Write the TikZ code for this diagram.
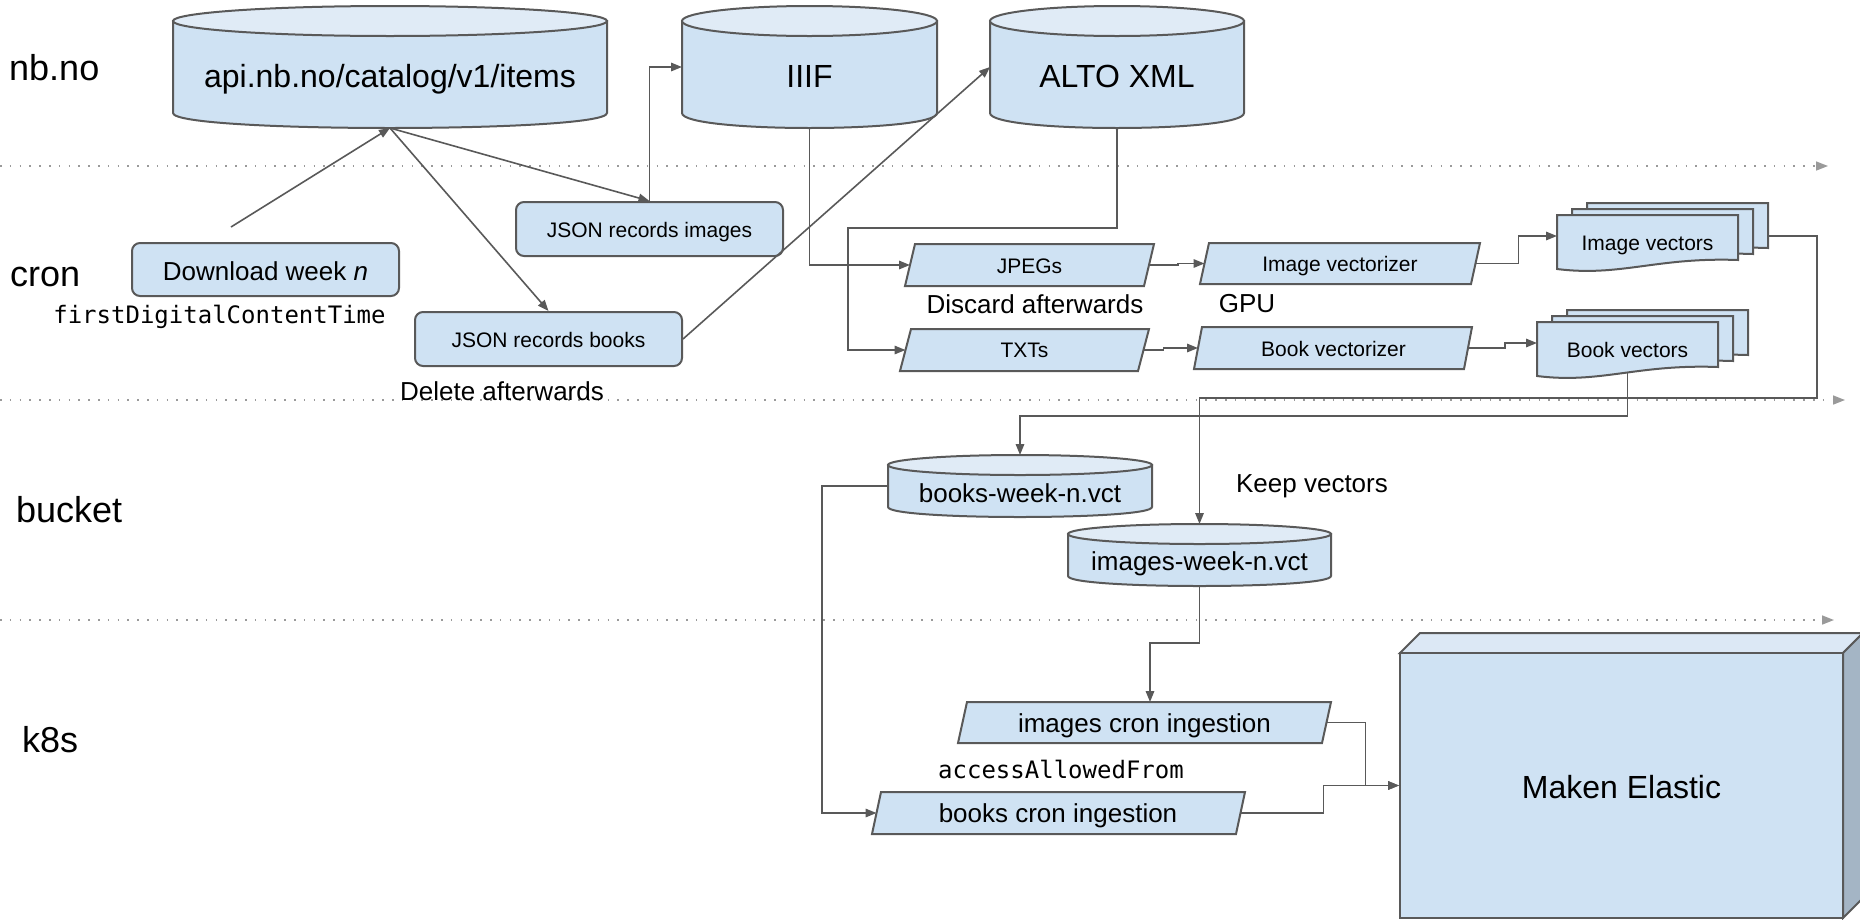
\documentclass[tikz,border=0pt]{standalone}
\usepackage{fontspec}
\setmainfont{Liberation Sans}
\newfontfamily\monofont{DejaVu Sans Mono}
\usetikzlibrary{arrows.meta,calc,fit}
\definecolor{boxfill}{HTML}{CFE2F3}
\definecolor{cyltop}{HTML}{E0EBF6}
\definecolor{edge}{HTML}{595959}
\definecolor{sepcol}{HTML}{9A9A9A}
\definecolor{topface}{HTML}{DCE8F5}
\definecolor{sideface}{HTML}{A4B5C5}
\newcommand{\setfs}[1]{\fontsize{#1}{#1}\selectfont}
\tikzset{
  shp/.style={draw=edge, fill=boxfill, line width=2pt},
  rbox/.style={shp, rounded corners=8pt, inner sep=0pt},
  ghost/.style={draw=none, fill=none, inner sep=0pt, outer sep=0pt},
  conn/.style={draw=edge, line width=1.6pt, -{Triangle[length=11pt,width=8.5pt]}},
  sepline/.style={draw=sepcol, line width=1.6pt, dash pattern=on 1.6pt off 8.2pt, -{Triangle[length=12pt,width=9pt]}},
  txtlane/.style={anchor=base west, inner sep=0pt, font=\setfs{36}},
  txtbig/.style={anchor=base, inner sep=0pt, font=\setfs{32}},
  txtmid/.style={anchor=base, inner sep=0pt, font=\setfs{26}},
  txtsmall/.style={anchor=base, inner sep=0pt, font=\setfs{21}},
  txtmono/.style={anchor=base, inner sep=0pt, font=\monofont\setfs{24}},
}
% cylinder: name, L, T, R, B, ry
\newcommand{\dbcyl}[6]{%
  \path[shp] ({#2},{#3+#6}) -- ({#2},{#5-#6}) .. controls ({#2},{#5+0.3333*#6}) and ({#4},{#5+0.3333*#6}) .. ({#4},{#5-#6}) -- ({#4},{#3+#6}) -- cycle;
  \path[shp, fill=cyltop] ({(#2+#4)/2},{#3+#6}) ellipse [x radius={(#4-#2)/2}, y radius={#6}];
  \node[ghost, fit={({#2},{#3}) ({#4},{#5})}] (#1) {};
}
% parallelogram: name, bottom-left x, bottom-right x, top y, bottom y, slant
\newcommand{\pgram}[6]{%
  \path[shp] ({#2},{#5}) -- ({#3},{#5}) -- ({#3+#6},{#4}) -- ({#2+#6},{#4}) -- cycle;
  \node[ghost, fit={({#2+#6/2},{#4}) ({#3+#6/2},{#5})}] (#1) {};
}
% one document page: L, T
\newcommand{\docpage}[2]{%
  \path[shp] ({#1},{#2}) -- ({#1+181},{#2}) -- ({#1+181},{#2+45}) .. controls ({#1+0.55*181},{#2+42}) and ({#1+0.35*181},{#2+62}) .. ({#1},{#2+54}) -- cycle;
}
% stack of documents: name, L, T
\newcommand{\docstack}[3]{%
  \docpage{#2+30}{#3-12}
  \docpage{#2+15}{#3-6}
  \docpage{#2}{#3}
  \node[ghost, fit={({#2},{#3-12}) ({#2+211},{#3+54})}] (#1) {};
}
\begin{document}
\begin{tikzpicture}[x=1pt,y=-1pt]
\useasboundingbox (0,0) rectangle (1860,919);
% lane separators
\coordinate (s1a) at (0,166); \coordinate (s1b) at (1828,166);
\coordinate (s2a) at (0,400); \coordinate (s2b) at (1845,400);
\coordinate (s3a) at (0,620); \coordinate (s3b) at (1834,620);
\draw[sepline] (s1a) -- (s1b);
\draw[sepline] (s2a) -- (s2b);
\draw[sepline] (s3a) -- (s3b);
% lane labels
\node[txtlane] (lnb) at (9,80) {nb.no};
\node[txtlane] (lcron) at (10,286) {cron};
\node[txtlane] (lbucket) at (16,522) {bucket};
\node[txtlane] (lk8s) at (22,752) {k8s};
% cylinders
\dbcyl{api}{173}{6}{607}{128}{15}
\dbcyl{iiif}{682}{6}{937}{128}{15}
\dbcyl{alto}{990}{6}{1244}{128}{15}
\dbcyl{bw}{888}{455}{1152}{517}{10}
\dbcyl{iw}{1068}{524}{1331}{586}{10}
% rounded boxes
\node[rbox, minimum width=267pt, minimum height=53pt] (dl) at (265.5,269.5) {};
\node[rbox, minimum width=267pt, minimum height=54pt] (ji) at (649.5,229) {};
\node[rbox, minimum width=267pt, minimum height=54pt] (jb) at (548.5,339) {};
% parallelograms
\pgram{jp}{905}{1144}{244}{286}{10}
\pgram{tx}{900}{1138}{329}{371}{11}
\pgram{ivz}{1200}{1471}{243}{284}{9}
\pgram{bvz}{1194}{1464}{327}{369}{8}
\pgram{ici}{958}{1322}{702}{743}{9}
\pgram{bci}{872}{1236}{792}{834}{9}
% document stacks
\docstack{iv}{1557}{215}
\docstack{bv}{1537}{322}
% Maken Elastic 3D box
\path[shp, fill=topface] (1400,653) -- (1420,633) -- (1863,633) -- (1843,653) -- cycle;
\path[shp, fill=sideface] (1843,653) -- (1863,633) -- (1863,898) -- (1843,918) -- cycle;
\node[shp, minimum width=443pt, minimum height=265pt, inner sep=0pt] (me) at (1621.5,785.5) {};
% connectors
\coordinate (dlstart) at (231,227);
\draw[conn] (dlstart) -- (api.south);
\draw[conn] (api.south) -- (ji.north);
\draw[conn] (api.south) -- (jb.north);
\draw[conn] (ji.north) |- (iiif.west);
\draw[conn] (jb.east) -- (alto.west);
\draw[conn] (iiif.south) |- (jp.west);
\coordinate (altoturn) at (848,228);
\draw[conn] (alto.south) |- (altoturn) |- (tx.west);
\draw[conn] (jp.east) -- ++(29,0) |- (ivz.west);
\draw[conn] (ivz.east) -- ++(43,0) |- (iv.west);
\draw[conn] (tx.east) -- ++(20,0) |- (bvz.west);
\draw[conn] (bvz.east) -- ++(37,0) |- (bv.west);
\coordinate (ivturn) at (1817,398);
\draw[conn] (iv.east) -| (ivturn) -| (iw.north);
\coordinate (bvout) at ($(bv.south west)+(90.5,-3)$);
\coordinate (bvturn) at (1627.5,416);
\draw[conn] (bvout) -- (bvturn) -| (bw.north);
\draw[conn] (bw.west) -- ++(-66,0) |- (bci.west);
\draw[conn] (iw.south) -- ++(0,57) -| ([xshift=5.5pt]ici.north);
\draw[conn] (ici.east) -- ++(39,0) |- (me.west);
\draw[conn] (bci.east) -- ++(83,0) |- (me.west);
% texts
\node[txtbig] (tapi) at (390,87) {api.nb.no/catalog/v1/items};
\node[txtbig] (tiiif) at (809.5,87) {IIIF};
\node[txtbig] (talto) at (1117,87) {ALTO XML};
\node[txtmid] (tbw) at (1020,502) {books-week-n.vct};
\node[txtmid] (tiw) at (1199.5,570) {images-week-n.vct};
\node[txtmid] (tdl) at (265.5,280) {Download week \textit{n}};
\node[txtmono] (tfirst) at (219.5,323) {firstDigitalContentTime};
\node[txtsmall] (tji) at (649.5,237) {JSON records images};
\node[txtsmall] (tjb) at (548.5,347) {JSON records books};
\node[txtmid] (tdel) at (502,400) {Delete afterwards};
\node[txtsmall] (tjp) at (1029.5,273) {JPEGs};
\node[txtmid] (tdisc) at (1035,313) {Discard afterwards};
\node[txtmid] (tgpu) at (1247,312) {GPU};
\node[txtsmall] (ttx) at (1024.5,357) {TXTs};
\node[txtsmall] (tivz) at (1340,271) {Image vectorizer};
\node[txtsmall] (tbvz) at (1333.5,356) {Book vectorizer};
\node[txtsmall] (tiv) at (1647.5,250) {Image vectors};
\node[txtsmall] (tbv) at (1627.5,357) {Book vectors};
\node[txtmid] (tkeep) at (1312,492) {Keep vectors};
\node[txtmid] (tici) at (1144.5,732) {images cron ingestion};
\node[txtmono] (tacc) at (1061,778) {accessAllowedFrom};
\node[txtmid] (tbci) at (1058,822) {books cron ingestion};
\node[txtbig] (tme) at (1621.5,798) {Maken Elastic};
\end{tikzpicture}
\end{document}
